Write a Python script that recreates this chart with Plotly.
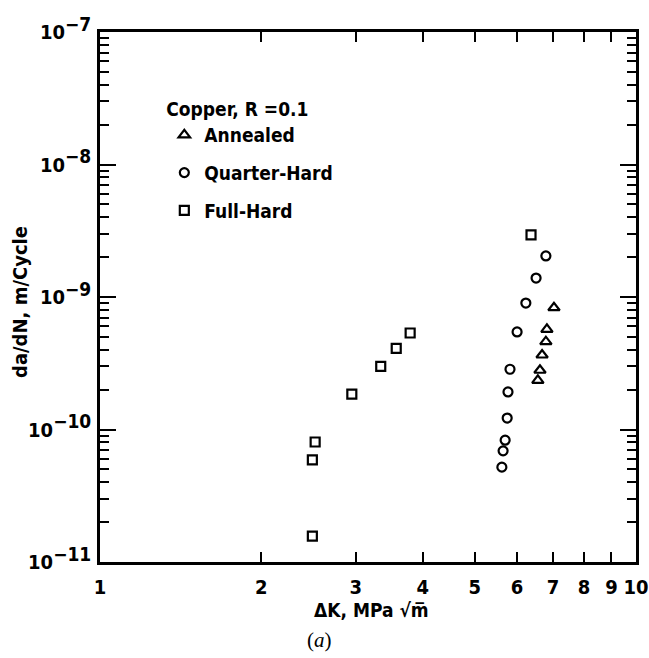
import plotly.graph_objects as go

# Data (ΔK in MPa√m, da/dN in m/cycle)
annealed_dk = [7.03, 6.82, 6.79, 6.68, 6.62, 6.56]
annealed_dadn = [8.3e-10, 5.7e-10, 4.6e-10, 3.65e-10, 2.8e-10, 2.35e-10]

quarter_dk = [6.79, 6.51, 6.23, 6.00, 5.82, 5.77, 5.75, 5.70, 5.65, 5.62]
quarter_dadn = [2.04e-9, 1.39e-9, 9.0e-10, 5.45e-10, 2.85e-10, 1.92e-10,
                1.22e-10, 8.3e-11, 6.9e-11, 5.2e-11]

full_dk = [2.52, 2.49, 2.49, 2.95, 3.34, 3.57, 3.79, 6.37]
full_dadn = [8.05e-11, 5.9e-11, 1.57e-11, 1.85e-10, 3.0e-10, 4.1e-10,
             5.35e-10, 2.94e-9]

x_ticks = [1, 2, 3, 4, 5, 6, 7, 8, 9, 10]
x_ticktext = ["1", "2", "3", "4", "5", "6", "7", "8", "9", "10"]
y_ticks = [1e-11, 1e-10, 1e-9, 1e-8, 1e-7]
y_exponents = ["\u221211", "\u221210", "\u22129", "\u22128", "\u22127"]
y_minor = [m * 10.0 ** e for e in range(-11, -7) for m in range(2, 10)]

FONT = "Liberation Sans Narrow, DejaVu Sans Condensed, Arial Narrow, sans-serif"
y_ticktext = ["10<sup><span style='font-size:19px'>%s</span></sup>" % e for e in y_exponents]

fig = go.Figure()
mk = dict(color="black", size=9, line=dict(color="black", width=2.2))
fig.add_trace(go.Scatter(x=annealed_dk, y=annealed_dadn, mode="markers", name="Annealed",
                         legendgroup="a",
                         marker=dict(symbol="triangle-up-open", **{**mk, "size": 10})))
fig.add_trace(go.Scatter(x=quarter_dk, y=quarter_dadn, mode="markers", name="Quarter-Hard",
                         legendgroup="q",
                         marker=dict(symbol="circle-open", **mk)))
fig.add_trace(go.Scatter(x=full_dk, y=full_dadn, mode="markers", name="Full-Hard",
                         legendgroup="f",
                         marker=dict(symbol="square-open", **mk)))

tfont = dict(family=FONT, size=20, color="black", weight="bold")
axis_common = dict(type="log", showgrid=False, zeroline=False, showline=True,
                   linecolor="black", linewidth=2.5, mirror="allticks", automargin=False,
                   ticks="inside", tickcolor="black", tickwidth=2, tickfont=tfont)

fig.update_xaxes(range=[0, 1], tickvals=x_ticks, ticktext=x_ticktext, ticklen=10,
                 ticklabelstandoff=5, **axis_common)
fig.update_yaxes(range=[-11, -7], tickvals=y_ticks, ticktext=y_ticktext, ticklen=16,
                 ticklabelstandoff=2,
                 minor=dict(tickvals=y_minor, ticks="inside", ticklen=9,
                            tickcolor="black", tickwidth=2),
                 **axis_common)

lfont = dict(family=FONT, size=19, color="black", weight="bold")
fig.update_layout(
    width=649, height=658,
    margin=dict(l=100, r=13, t=32, b=96),
    plot_bgcolor="white", paper_bgcolor="white",
    font=dict(family=FONT, color="black", size=19),
    showlegend=True,
    legend=dict(x=0.12, y=0.888, xanchor="left", yanchor="top",
                bgcolor="rgba(0,0,0,0)", traceorder="grouped", tracegroupgap=10,
                title=dict(text="Copper, R =0.1", font=lfont),
                font=lfont),
    annotations=[
        dict(text="da/dN, m/Cycle", xref="paper", yref="paper", x=-0.148, y=0.49,
             textangle=-90, showarrow=False, xanchor="center", yanchor="middle",
             font=dict(family=FONT, size=20, color="black", weight="bold")),
        dict(text="\u0394K, MPa \u221am\u0305", xref="paper", yref="paper", x=0.507, y=-0.09,
             showarrow=False, xanchor="center", yanchor="middle",
             font=dict(family=FONT, size=19, color="black", weight="bold")),
        dict(text="(<i>a</i>)", xref="paper", yref="paper", x=0.41, y=-0.148,
             showarrow=False, xanchor="center", yanchor="middle",
             font=dict(family="Liberation Serif, DejaVu Serif, serif", size=21, color="black")),
    ],
)

fig.write_html("out.html", config={"displayModeBar": False},
               post_script="document.body.style.margin='0';document.body.style.overflow='hidden';")
